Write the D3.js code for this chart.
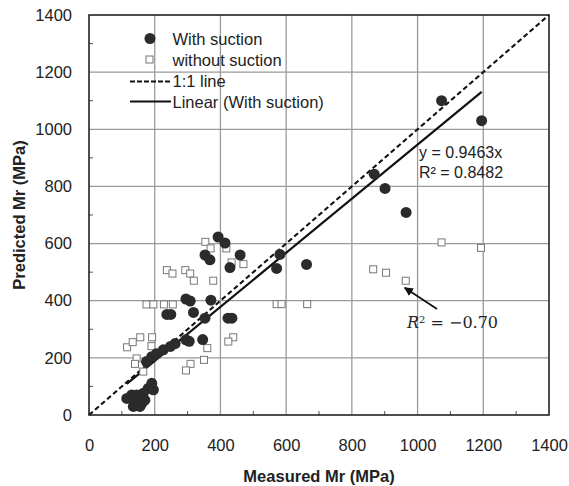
<!DOCTYPE html>
<html><head><meta charset="utf-8">
<script src="https://cdn.jsdelivr.net/npm/d3@7"></script>
<style>body{margin:0;background:#fff}svg{display:block}</style>
</head><body><svg id="c" width="569" height="486"></svg>
<script>
const xTicks = [0,200,400,600,800,1000,1200,1400];
const yTicks = [0,200,400,600,800,1000,1200,1400];
const minorTicks = [100,300,500,700,900,1100,1300];
const withX = [115,130,135,145,150,155,160,165,170,180,191,196,140,
  175,191,205,226,248,262,
  295,305,346,
  237,249,353,423,435,
  295,308,318,371,
  393,414,353,368,460,429,
  581,571,662,
  868,901,965,1073,1195];
const withY = [58,70,30,70,47,30,40,76,52,93,111,88,45,
  187,204,214,228,240,250,
  263,258,264,
  352,352,339,339,339,
  406,399,359,402,
  623,602,560,543,560,516,
  562,513,527,
  843,793,709,1100,1030];
const withoutX = [116,133,156,192,190,145,140,165,
  175,196,228,255,
  237,254,293,308,319,378,
  354,370,418,470,434,
  439,424,360,350,309,295,
  571,586,664,
  865,904,964,1073,1193];
const withoutY = [237,255,272,272,241,198,179,152,
  387,387,387,387,
  507,495,507,495,470,470,
  606,583,583,528,534,
  272,257,234,193,179,156,
  388,388,388,
  510,498,470,604,585];
const slope = 0.9463;
const fitRange = [115,1195];
const legendLabels = ["With suction","without suction","1:1 line","Linear (With suction)"];

const svg = d3.select("#c");
const L=89,R=549,T=15,B=415;
const x = d3.scaleLinear().domain([0,1400]).range([L,R]);
const y = d3.scaleLinear().domain([0,1400]).range([B,T]);
const font = "'Liberation Sans', Arial, sans-serif";

// grid
svg.append("g").selectAll("line").data(xTicks.slice(1,-1)).join("line")
  .attr("x1",d=>x(d)).attr("x2",d=>x(d)).attr("y1",T).attr("y2",B)
  .attr("stroke","#9a9a9a").attr("stroke-width",1.3);
svg.append("g").selectAll("line").data(yTicks.slice(1,-1)).join("line")
  .attr("y1",d=>y(d)).attr("y2",d=>y(d)).attr("x1",L).attr("x2",R)
  .attr("stroke","#9a9a9a").attr("stroke-width",1.3);
// minor ticks
svg.append("g").selectAll("line").data(minorTicks).join("line")
  .attr("x1",d=>x(d)).attr("x2",d=>x(d)).attr("y1",B).attr("y2",B-4)
  .attr("stroke","#555").attr("stroke-width",1);
svg.append("g").selectAll("line").data(minorTicks).join("line")
  .attr("y1",d=>y(d)).attr("y2",d=>y(d)).attr("x1",L).attr("x2",L+4)
  .attr("stroke","#555").attr("stroke-width",1);

// axes labels
const fmt = d3.format("d");
const xa = svg.append("g").attr("transform",`translate(0,${B})`)
  .call(d3.axisBottom(x).tickValues(xTicks).tickFormat(fmt).tickSize(0).tickPadding(24));
const ya = svg.append("g").attr("transform",`translate(${L},0)`)
  .call(d3.axisLeft(y).tickValues(yTicks).tickFormat(fmt).tickSize(0).tickPadding(17));
[xa,ya].forEach(a=>{a.select(".domain").remove();
  a.selectAll("text").attr("font-family",font).attr("font-size",16.5).attr("fill","#222");});

// 1:1 line
svg.append("line").attr("x1",x(0)).attr("y1",y(0)).attr("x2",x(1400)).attr("y2",y(1400))
  .attr("stroke","#111").attr("stroke-width",2.2).attr("stroke-dasharray","5,3");
// regression
svg.append("line").attr("x1",x(fitRange[0])).attr("y1",y(slope*fitRange[0]))
  .attr("x2",x(fitRange[1])).attr("y2",y(slope*fitRange[1]))
  .attr("stroke","#111").attr("stroke-width",2.2);

// without suction squares
svg.append("g").selectAll("rect").data(withoutX.map((d,i)=>[d,withoutY[i]])).join("rect")
  .attr("x",d=>x(d[0])-3.5).attr("y",d=>y(d[1])-3.5).attr("width",7).attr("height",7)
  .attr("fill","#fff").attr("stroke","#777").attr("stroke-width",1);
// with suction circles
svg.append("g").selectAll("circle").data(withX.map((d,i)=>[d,withY[i]])).join("circle")
  .attr("cx",d=>x(d[0])).attr("cy",d=>y(d[1])).attr("r",5.5).attr("fill","#2b2b2b");

// border
svg.append("rect").attr("x",L).attr("y",T).attr("width",R-L).attr("height",B-T)
  .attr("fill","none").attr("stroke","#222").attr("stroke-width",1.6);

// legend
const lg = svg.append("g");
lg.append("circle").attr("cx",150).attr("cy",38.5).attr("r",5.5).attr("fill","#2b2b2b");
lg.append("rect").attr("x",146).attr("y",56).attr("width",7).attr("height",7).attr("fill","#fff").attr("stroke","#777");
lg.append("line").attr("x1",130).attr("x2",171).attr("y1",81.5).attr("y2",81.5).attr("stroke","#111").attr("stroke-width",2.2).attr("stroke-dasharray","5,2");
lg.append("line").attr("x1",130).attr("x2",171).attr("y1",101.5).attr("y2",101.5).attr("stroke","#111").attr("stroke-width",2.2);
lg.selectAll("text").data(legendLabels).join("text")
  .attr("x",172.5).attr("y",(d,i)=>39+i*21).attr("dy","0.35em")
  .attr("font-family",font).attr("font-size",16.5).attr("fill","#222").text(d=>d);

// equation
svg.append("text").attr("x",419).attr("y",152).attr("dy","0.35em").attr("font-family",font)
  .attr("font-size",16).attr("fill","#222").text("y = 0.9463x");
svg.append("text").attr("x",419).attr("y",172).attr("dy","0.35em").attr("font-family",font)
  .attr("font-size",16).attr("fill","#222").text("R² = 0.8482");

// annotation
const ann = svg.append("text").attr("x",407).attr("y",322).attr("dy","0.35em")
  .attr("font-family","'DejaVu Serif','Liberation Serif',serif").attr("font-size",16).attr("fill","#222");
ann.append("tspan").attr("font-style","italic").text("R");
ann.append("tspan").attr("baseline-shift","super").attr("font-size",10).text("2");
ann.append("tspan").text(" = −0.70");
svg.append("defs").append("marker").attr("id","ah").attr("viewBox","0 0 10 10").attr("refX",9).attr("refY",5)
  .attr("markerWidth",5).attr("markerHeight",5).attr("orient","auto")
  .append("path").attr("d","M0,0L10,5L0,10z").attr("fill","#111");
svg.append("line").attr("x1",437).attr("y1",309).attr("x2",x(964)-1).attr("y2",y(470)+7)
  .attr("stroke","#111").attr("stroke-width",1.8).attr("marker-end","url(#ah)");

// axis titles
svg.append("text").attr("x",(L+R)/2).attr("y",476).attr("dy","0.35em").attr("text-anchor","middle")
  .attr("font-family",font).attr("font-weight","bold").attr("font-size",16.5).attr("fill","#222").text("Measured Mr (MPa)");
svg.append("text").attr("transform",`translate(19,${(T+B)/2}) rotate(-90)`).attr("dy","0.35em").attr("text-anchor","middle")
  .attr("font-family",font).attr("font-weight","bold").attr("font-size",16.5).attr("fill","#222").text("Predicted Mr (MPa)");
</script></body></html>
